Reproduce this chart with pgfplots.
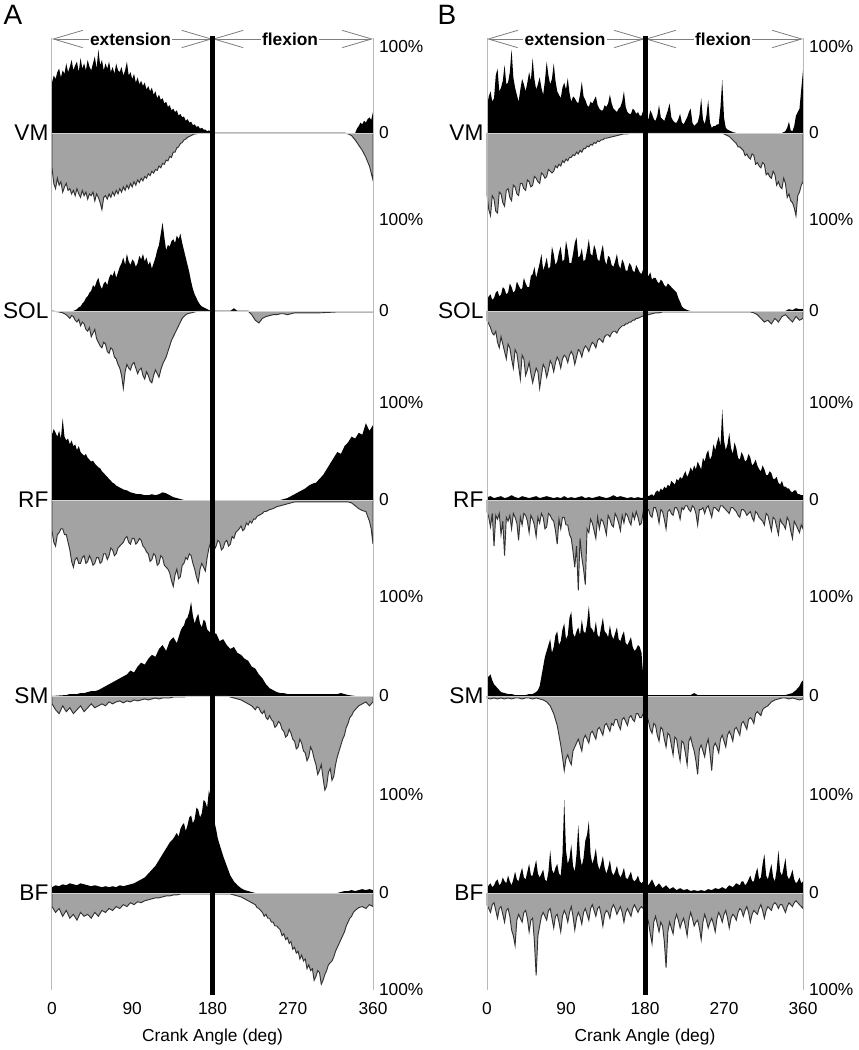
\documentclass[border=0pt]{standalone}
\usepackage{fontspec}
\setmainfont{Liberation Sans}
\usepackage{pgfplots}
\usepackage{pgfplotstable}
\pgfplotsset{compat=1.18}
\usetikzlibrary{arrows.meta}
\definecolor{gfill}{RGB}{163,163,163}
\definecolor{gline}{RGB}{50,50,50}
\definecolor{axgray}{RGB}{185,185,185}
\definecolor{arrgray}{RGB}{125,125,125}

% panel A (x = crank angle, y = % of max); p = black (upper), n = grey (lower)
\pgfplotstableread[row sep=\\]{x y\\0 0\\0 58\\2 66\\4 62\\6 70\\8 74\\10 64\\12 72\\14 68\\16 80\\18 70\\20 76\\22 84\\24 72\\26 78\\28 82\\30 70\\32 86\\34 74\\36 80\\38 72\\40 84\\42 76\\44 72\\46 80\\48 88\\50 74\\52 96\\54 78\\56 84\\58 72\\60 80\\62 74\\64 82\\66 70\\68 76\\70 68\\72 80\\74 72\\76 70\\78 76\\80 66\\82 72\\84 82\\86 66\\88 70\\90 62\\92 68\\94 58\\96 64\\98 56\\100 60\\102 54\\104 58\\106 50\\108 54\\110 48\\112 52\\114 44\\116 48\\118 40\\120 44\\122 38\\124 40\\126 34\\128 36\\130 30\\132 32\\134 26\\136 28\\138 24\\140 26\\142 20\\144 22\\146 18\\148 19\\150 14\\152 16\\154 12\\156 13\\158 9\\160 10\\162 7\\164 8\\166 5\\168 6\\170 4\\172 4\\174 2\\176 3\\178 1\\180 0\\340 0\\342 5\\344 8\\346 12\\348 10\\350 14\\352 12\\354 16\\356 18\\358 15\\360 24\\360 0\\}\AVMp
\pgfplotstableread[row sep=\\]{x y\\0 0\\0 40\\2 58\\4 64\\6 52\\8 60\\10 56\\12 68\\14 62\\16 58\\18 66\\20 64\\22 70\\24 66\\26 72\\28 64\\30 70\\32 74\\34 66\\36 72\\38 68\\40 76\\42 70\\44 72\\46 68\\48 78\\50 70\\52 74\\54 80\\56 88\\58 74\\60 72\\62 76\\64 70\\66 74\\68 68\\70 72\\72 66\\74 70\\76 64\\78 68\\80 62\\82 66\\84 60\\86 64\\88 58\\90 62\\92 56\\94 60\\96 54\\98 57\\100 52\\102 55\\104 50\\106 52\\108 47\\110 49\\112 44\\114 46\\116 42\\118 43\\120 38\\122 40\\124 35\\126 36\\128 31\\130 32\\132 27\\134 28\\136 22\\138 22\\140 17\\142 16\\144 12\\146 11\\148 8\\150 7\\152 5\\154 4\\156 3\\158 2\\160 1\\162 1\\164 0\\328 0\\332 1\\336 3\\340 8\\344 14\\348 20\\352 28\\356 38\\358 46\\360 54\\360 0\\}\AVMn
\pgfplotstableread[row sep=\\]{x y\\0 0\\24 0\\28 2\\30 4\\32 5\\34 8\\36 10\\38 14\\40 16\\42 20\\44 22\\46 28\\48 26\\50 32\\52 36\\54 28\\56 24\\58 30\\60 32\\62 28\\64 36\\66 40\\68 38\\70 44\\72 36\\74 42\\76 48\\78 52\\80 58\\82 50\\84 62\\86 54\\88 50\\90 56\\92 54\\94 48\\96 52\\98 60\\100 56\\102 62\\104 54\\106 58\\108 50\\110 54\\112 46\\114 52\\116 58\\118 66\\120 72\\122 84\\124 96\\126 80\\128 66\\130 72\\132 70\\134 76\\136 78\\138 74\\140 82\\142 78\\144 84\\146 74\\148 66\\150 58\\152 50\\154 42\\156 32\\158 24\\160 18\\162 14\\164 10\\166 7\\168 5\\170 4\\172 3\\174 2\\176 1\\180 0\\200 0\\204 3\\208 0\\360 0\\}\ASOLp
\pgfplotstableread[row sep=\\]{x y\\0 0\\8 1\\12 2\\16 4\\18 6\\20 8\\22 5\\24 6\\26 10\\28 12\\30 9\\32 16\\34 12\\36 14\\38 20\\40 22\\42 18\\44 28\\46 24\\48 20\\50 30\\52 34\\54 38\\56 40\\58 34\\60 36\\62 44\\64 46\\66 40\\68 42\\70 50\\72 52\\74 58\\76 62\\78 70\\80 84\\82 66\\84 58\\86 62\\88 64\\90 58\\92 56\\94 62\\96 68\\98 64\\100 62\\102 70\\104 74\\106 66\\108 70\\110 76\\112 78\\114 70\\116 64\\118 68\\120 72\\122 64\\124 58\\126 54\\128 50\\130 44\\132 38\\134 32\\136 28\\138 24\\140 20\\142 16\\144 12\\146 8\\148 6\\150 4\\152 3\\156 2\\160 1\\164 0\\220 0\\224 4\\228 10\\232 13\\236 8\\240 6\\244 5\\248 4\\252 4\\256 3\\260 3\\264 4\\268 3\\272 2\\300 2\\320 1\\360 1\\360 0\\}\ASOLn
\pgfplotstableread[row sep=\\]{x y\\0 0\\0 68\\2 74\\4 70\\6 66\\8 72\\10 64\\12 85\\14 66\\16 62\\18 64\\20 58\\22 62\\24 56\\26 58\\28 52\\30 56\\32 50\\34 48\\36 46\\38 48\\40 44\\42 42\\44 40\\46 41\\48 38\\50 36\\52 34\\54 33\\56 30\\58 28\\60 26\\62 24\\64 22\\66 20\\68 18\\70 17\\72 15\\76 13\\80 11\\84 10\\88 8\\92 7\\96 6\\100 6\\104 5\\108 5\\112 6\\116 5\\120 6\\124 8\\128 7\\132 5\\136 3\\140 2\\144 1\\148 0\\256 0\\260 1\\264 2\\268 4\\272 6\\276 8\\280 10\\284 12\\288 15\\292 17\\296 18\\300 22\\304 26\\308 32\\312 38\\316 44\\320 50\\324 48\\328 56\\332 60\\336 66\\340 64\\344 70\\348 68\\352 80\\356 72\\360 78\\360 0\\}\ARFp
\pgfplotstableread[row sep=\\]{x y\\0 0\\0 32\\2 44\\4 48\\6 36\\8 34\\10 30\\12 30\\14 36\\16 36\\18 44\\20 52\\22 64\\24 70\\26 62\\28 60\\30 66\\32 66\\34 60\\36 58\\38 66\\40 64\\42 58\\44 62\\46 68\\48 66\\50 60\\52 60\\54 66\\56 64\\58 56\\60 56\\62 62\\64 58\\66 50\\68 52\\70 58\\72 56\\74 50\\76 48\\78 46\\80 44\\82 40\\84 38\\86 44\\88 46\\90 40\\92 40\\94 46\\96 44\\98 40\\100 42\\102 48\\104 50\\106 54\\108 56\\110 64\\112 62\\114 56\\116 58\\118 68\\120 66\\122 58\\124 60\\126 68\\128 70\\130 72\\132 76\\134 84\\136 90\\138 78\\140 72\\142 82\\144 80\\146 68\\148 66\\150 60\\152 62\\154 56\\156 58\\158 66\\160 72\\162 80\\164 86\\166 72\\168 66\\170 70\\172 74\\174 60\\176 50\\178 44\\180 46\\182 52\\184 48\\186 42\\188 44\\190 52\\192 50\\194 44\\196 42\\198 48\\200 46\\202 38\\204 40\\206 34\\208 32\\210 30\\212 27\\214 32\\216 30\\218 24\\220 26\\222 22\\224 24\\226 20\\228 20\\230 17\\232 16\\234 15\\236 14\\238 12\\240 12\\244 10\\248 9\\252 7\\256 6\\260 5\\264 4\\268 3\\272 2\\332 2\\336 3\\340 6\\344 9\\348 11\\352 12\\356 22\\358 30\\360 46\\360 0\\}\ARFn
\pgfplotstableread[row sep=\\]{x y\\0 0\\16 1\\20 2\\28 2\\32 3\\36 3\\40 4\\44 5\\48 5\\52 6\\56 8\\60 10\\64 12\\68 14\\72 16\\76 18\\80 20\\84 22\\88 26\\92 24\\96 30\\100 34\\104 32\\108 38\\112 42\\116 40\\120 48\\124 52\\128 46\\132 56\\136 60\\140 54\\144 66\\146 70\\148 72\\150 78\\152 80\\154 86\\156 96\\158 82\\160 74\\162 80\\164 84\\166 74\\168 70\\170 78\\172 76\\174 68\\176 66\\178 64\\180 62\\184 64\\188 56\\192 58\\196 52\\200 48\\204 50\\208 44\\212 42\\216 38\\220 36\\224 30\\228 28\\232 22\\236 18\\240 12\\244 8\\248 6\\252 4\\256 3\\260 3\\264 2\\320 2\\324 3\\328 2\\332 1\\340 0\\360 0\\}\ASMp
\pgfplotstableread[row sep=\\]{x y\\0 0\\0 8\\4 14\\8 18\\12 10\\16 16\\20 12\\24 18\\28 14\\32 10\\36 16\\40 12\\44 8\\48 12\\52 10\\56 8\\60 10\\64 6\\68 8\\72 6\\76 5\\80 7\\84 5\\88 6\\92 4\\96 5\\100 4\\104 3\\108 4\\112 3\\116 2\\120 3\\124 2\\132 2\\136 1\\148 1\\152 0\\196 0\\200 1\\204 2\\208 3\\212 4\\216 6\\220 8\\224 10\\226 12\\228 14\\230 11\\232 12\\234 16\\236 18\\238 15\\240 22\\242 24\\244 20\\246 24\\248 26\\250 32\\252 30\\254 26\\256 28\\258 34\\260 36\\262 42\\264 40\\266 34\\268 38\\270 44\\272 46\\274 54\\276 52\\278 44\\280 48\\282 56\\284 58\\286 66\\288 62\\290 52\\292 56\\294 64\\296 70\\298 80\\300 76\\302 70\\304 84\\306 96\\308 92\\310 78\\312 74\\314 86\\316 82\\318 70\\320 62\\322 56\\324 50\\326 44\\328 40\\330 32\\332 28\\334 22\\336 20\\338 16\\340 14\\344 10\\348 8\\352 6\\356 10\\360 6\\360 0\\}\ASMn
\pgfplotstableread[row sep=\\]{x y\\0 0\\0 6\\4 8\\8 7\\12 9\\16 8\\20 10\\24 9\\28 8\\32 10\\36 9\\40 8\\44 7\\48 8\\52 7\\56 6\\60 7\\64 6\\68 7\\72 6\\76 8\\80 7\\84 8\\88 9\\92 10\\96 12\\100 14\\104 16\\108 20\\112 24\\116 28\\120 34\\124 40\\128 46\\132 52\\136 56\\140 62\\142 58\\144 66\\146 70\\148 72\\150 64\\152 70\\154 78\\156 80\\158 72\\160 76\\162 88\\164 86\\166 78\\168 82\\170 96\\172 94\\174 88\\176 106\\178 98\\180 90\\182 74\\184 66\\186 56\\188 50\\190 44\\192 38\\196 28\\200 18\\204 12\\208 8\\212 5\\216 3\\220 2\\224 1\\228 0\\320 0\\324 1\\328 2\\332 2\\336 3\\340 2\\344 3\\348 4\\352 3\\356 4\\360 3\\360 0\\}\ABFp
\pgfplotstableread[row sep=\\]{x y\\0 0\\0 14\\4 20\\8 16\\12 24\\16 18\\20 26\\24 22\\28 28\\32 20\\36 24\\40 22\\44 26\\48 20\\52 24\\56 18\\60 20\\64 16\\68 18\\72 14\\76 16\\80 12\\84 14\\88 10\\92 12\\96 9\\100 10\\104 8\\108 7\\112 6\\116 5\\120 5\\124 4\\128 3\\132 3\\136 2\\140 2\\144 1\\200 1\\204 2\\208 3\\212 4\\216 6\\220 8\\224 10\\228 12\\230 15\\232 16\\234 18\\236 20\\238 24\\240 22\\242 26\\244 26\\246 30\\248 30\\250 34\\252 34\\254 36\\256 38\\258 44\\260 42\\262 48\\264 46\\266 52\\268 50\\270 58\\272 56\\274 62\\276 60\\278 68\\280 64\\282 70\\284 68\\286 78\\288 74\\290 80\\292 78\\294 90\\296 86\\298 80\\300 82\\302 94\\304 90\\306 84\\308 80\\310 74\\312 72\\314 70\\316 66\\318 60\\320 56\\322 52\\324 48\\326 44\\328 40\\330 34\\332 30\\334 26\\336 24\\338 20\\340 18\\344 15\\348 14\\352 16\\356 12\\360 14\\360 0\\}\ABFn

% panel B
\pgfplotstableread[row sep=\\]{x y\\0 0\\0 30\\2 42\\4 48\\6 36\\8 40\\10 66\\12 74\\14 48\\16 52\\18 60\\20 78\\22 56\\24 58\\26 70\\28 96\\30 64\\32 52\\34 44\\36 36\\38 50\\40 62\\42 56\\44 48\\46 58\\48 70\\50 60\\52 86\\54 62\\56 50\\58 56\\60 64\\62 52\\64 44\\66 60\\68 82\\70 66\\72 56\\74 62\\76 80\\78 60\\80 48\\82 44\\84 40\\86 52\\88 58\\90 50\\92 63\\94 46\\96 36\\98 42\\100 40\\102 36\\104 34\\106 44\\108 59\\110 42\\112 38\\114 32\\116 30\\118 36\\120 34\\122 38\\124 42\\126 32\\128 28\\130 26\\132 26\\134 32\\136 30\\138 34\\140 44\\142 34\\144 28\\146 26\\148 24\\150 28\\152 30\\154 36\\156 48\\158 30\\160 24\\162 22\\164 22\\166 28\\168 26\\170 22\\172 24\\174 20\\176 20\\178 26\\180 22\\182 18\\184 16\\186 26\\188 22\\190 16\\192 14\\194 20\\196 32\\198 18\\200 16\\202 14\\204 20\\206 26\\208 34\\210 18\\212 14\\214 12\\216 12\\218 16\\220 22\\222 12\\224 10\\226 14\\228 18\\230 24\\232 28\\234 12\\236 8\\238 10\\240 12\\242 20\\244 40\\246 16\\248 10\\250 20\\252 38\\254 12\\256 6\\258 8\\260 8\\262 10\\264 10\\266 30\\268 61\\270 18\\272 6\\274 4\\276 3\\278 2\\280 1\\284 0\\336 0\\340 2\\342 6\\344 13\\346 3\\348 2\\350 8\\352 20\\354 24\\356 28\\358 50\\360 72\\360 0\\}\BVMp
\pgfplotstableread[row sep=\\]{x y\\0 0\\0 70\\2 88\\4 95\\6 72\\8 76\\10 90\\12 92\\14 68\\16 70\\18 80\\20 84\\22 66\\24 64\\26 74\\28 78\\30 60\\32 62\\34 70\\36 72\\38 58\\40 58\\42 64\\44 66\\46 54\\48 56\\50 62\\52 60\\54 50\\56 52\\58 56\\60 58\\62 46\\64 48\\66 52\\68 50\\70 42\\72 44\\74 46\\76 44\\78 38\\80 40\\82 36\\84 38\\86 32\\88 34\\90 30\\92 32\\94 28\\96 28\\98 25\\100 26\\102 22\\104 24\\106 20\\108 22\\110 18\\112 18\\114 15\\116 16\\118 13\\120 14\\122 11\\124 12\\126 9\\128 10\\130 8\\132 8\\134 6\\136 6\\140 5\\144 4\\148 3\\152 2\\156 1\\160 1\\164 0\\268 0\\272 2\\276 4\\278 6\\280 8\\282 10\\284 12\\286 16\\288 16\\290 18\\292 20\\294 26\\296 24\\298 28\\300 30\\302 24\\304 26\\306 36\\308 34\\310 38\\312 40\\314 34\\316 36\\318 48\\320 46\\322 50\\324 52\\326 44\\328 48\\330 60\\332 56\\334 62\\336 64\\338 52\\340 58\\342 74\\344 70\\346 78\\348 80\\350 86\\352 95\\354 72\\356 68\\358 60\\360 56\\360 0\\}\BVMn
\pgfplotstableread[row sep=\\]{x y\\0 0\\0 12\\2 16\\4 18\\6 12\\8 14\\10 20\\12 22\\14 16\\16 18\\18 26\\20 24\\22 18\\24 20\\26 30\\28 26\\30 20\\32 22\\34 32\\36 28\\38 24\\40 24\\42 36\\44 30\\46 26\\48 26\\50 38\\52 40\\54 48\\56 36\\58 44\\60 52\\62 62\\64 44\\66 50\\68 58\\70 46\\72 48\\74 70\\76 62\\78 50\\80 54\\82 64\\84 70\\86 54\\88 56\\90 76\\92 66\\94 52\\96 52\\98 62\\100 74\\102 80\\104 58\\106 60\\108 68\\110 54\\112 56\\114 66\\116 78\\118 62\\120 60\\122 72\\124 66\\126 56\\128 54\\130 64\\132 72\\134 56\\136 50\\138 60\\140 58\\142 50\\144 48\\146 54\\148 62\\150 50\\152 46\\154 56\\156 52\\158 44\\160 44\\162 52\\164 50\\166 44\\168 42\\170 50\\172 46\\174 42\\176 40\\178 46\\180 44\\182 40\\184 38\\186 42\\188 34\\190 36\\192 36\\194 32\\196 30\\198 34\\200 32\\202 28\\204 26\\206 30\\208 28\\210 26\\212 24\\214 22\\216 20\\218 14\\220 10\\222 5\\224 3\\226 2\\228 1\\232 0\\340 0\\344 2\\348 1\\352 3\\356 2\\360 2\\360 0\\}\BSOLp
\pgfplotstableread[row sep=\\]{x y\\0 0\\0 10\\2 14\\4 18\\6 24\\8 26\\10 22\\12 34\\14 40\\16 28\\18 36\\20 44\\22 52\\24 36\\26 40\\28 52\\30 62\\32 42\\34 46\\36 60\\38 74\\40 48\\42 52\\44 70\\46 64\\48 56\\50 68\\52 78\\54 70\\56 62\\58 66\\60 84\\62 70\\64 58\\66 62\\68 72\\70 64\\72 54\\74 58\\76 66\\78 56\\80 50\\82 54\\84 62\\86 52\\88 48\\90 50\\92 56\\94 48\\96 44\\98 48\\100 58\\102 50\\104 42\\106 44\\108 50\\110 42\\112 38\\114 40\\116 44\\118 38\\120 34\\122 36\\124 40\\126 32\\128 30\\130 32\\132 34\\134 28\\136 26\\138 26\\140 28\\142 24\\144 22\\146 22\\148 24\\150 20\\152 18\\154 16\\156 16\\158 14\\160 14\\162 12\\164 12\\166 10\\168 10\\170 8\\172 8\\176 6\\180 5\\184 4\\188 3\\192 2\\196 2\\200 1\\300 1\\304 2\\308 4\\312 8\\316 12\\320 10\\324 14\\328 8\\332 12\\336 6\\340 4\\344 8\\348 12\\352 6\\356 10\\360 8\\360 0\\}\BSOLn
\pgfplotstableread[row sep=\\]{x y\\0 0\\0 3\\4 4\\8 2\\12 3\\16 4\\20 2\\24 3\\28 5\\32 3\\36 2\\40 4\\44 3\\48 2\\52 3\\56 4\\60 2\\64 3\\68 4\\72 3\\76 2\\80 3\\84 2\\88 4\\92 2\\96 3\\100 2\\104 3\\108 4\\112 2\\116 3\\120 2\\124 3\\128 4\\132 3\\136 2\\140 3\\144 5\\148 3\\152 4\\156 3\\160 2\\164 3\\168 2\\172 3\\176 2\\180 3\\184 4\\188 6\\190 4\\192 8\\194 10\\196 8\\198 12\\200 10\\202 14\\204 12\\206 16\\208 14\\210 20\\212 18\\214 16\\216 22\\218 20\\220 24\\222 22\\224 26\\226 30\\228 24\\230 28\\232 34\\234 30\\236 36\\238 32\\240 40\\242 36\\244 32\\246 44\\248 40\\250 48\\252 52\\254 42\\256 46\\258 58\\260 52\\262 60\\264 66\\266 56\\268 94\\270 62\\272 52\\274 58\\276 70\\278 54\\280 48\\282 60\\284 54\\286 44\\288 42\\290 50\\292 46\\294 40\\296 42\\298 48\\300 44\\302 36\\304 38\\306 42\\308 36\\310 32\\312 30\\314 36\\316 32\\318 26\\320 26\\322 30\\324 28\\326 22\\328 22\\330 24\\332 18\\334 16\\336 20\\338 14\\340 14\\342 12\\344 12\\346 9\\348 8\\350 10\\352 10\\354 6\\356 6\\358 5\\360 5\\360 0\\}\BRFp
\pgfplotstableread[row sep=\\]{x y\\0 0\\0 12\\2 18\\4 28\\6 14\\8 48\\10 16\\12 20\\14 14\\16 36\\18 22\\20 58\\22 18\\24 22\\26 16\\28 30\\30 14\\32 18\\34 24\\36 42\\38 18\\40 26\\42 14\\44 16\\46 22\\48 34\\50 16\\52 20\\54 26\\56 38\\58 18\\60 24\\62 14\\64 18\\66 30\\68 28\\70 14\\72 16\\74 20\\76 22\\78 32\\80 46\\82 20\\84 30\\86 18\\88 18\\90 26\\92 26\\94 36\\96 40\\98 54\\100 70\\102 48\\104 94\\106 40\\108 60\\110 72\\112 88\\114 30\\116 34\\118 20\\120 24\\122 32\\124 40\\126 18\\128 30\\130 20\\132 22\\134 28\\136 36\\138 16\\140 20\\142 26\\144 28\\146 14\\148 18\\150 24\\152 32\\154 16\\156 24\\158 14\\160 16\\162 22\\164 26\\166 14\\168 20\\170 12\\172 18\\174 26\\176 24\\178 12\\180 14\\182 10\\184 10\\186 16\\188 18\\190 8\\192 8\\194 14\\196 24\\198 10\\200 12\\202 20\\204 30\\206 12\\208 10\\210 14\\212 16\\214 8\\216 8\\218 12\\220 20\\222 8\\224 10\\226 6\\228 6\\230 10\\232 12\\234 6\\236 8\\238 14\\240 26\\242 10\\244 10\\246 8\\248 14\\250 8\\252 6\\254 12\\256 18\\258 8\\260 8\\262 10\\264 12\\266 6\\268 6\\270 8\\272 10\\274 12\\276 14\\278 8\\280 8\\282 10\\284 12\\286 16\\288 18\\290 10\\292 10\\294 12\\296 16\\298 14\\300 12\\302 18\\304 22\\306 12\\308 14\\310 18\\312 20\\314 22\\316 26\\318 14\\320 16\\322 24\\324 32\\326 18\\328 20\\330 28\\332 36\\334 20\\336 24\\338 26\\340 30\\342 18\\344 22\\346 32\\348 40\\350 22\\352 26\\354 30\\356 34\\358 26\\360 30\\360 0\\}\BRFn
\pgfplotstableread[row sep=\\]{x y\\0 0\\0 18\\2 20\\4 22\\6 16\\8 12\\10 10\\12 8\\14 6\\16 4\\20 3\\24 2\\28 2\\32 1\\44 1\\48 2\\52 2\\56 4\\58 6\\60 10\\62 20\\64 30\\66 40\\68 46\\70 52\\72 58\\74 44\\76 50\\78 62\\80 66\\82 52\\84 56\\86 68\\88 74\\90 58\\92 62\\94 80\\96 86\\98 64\\100 60\\102 66\\104 70\\106 62\\108 78\\110 66\\112 64\\114 74\\116 92\\118 70\\120 68\\122 64\\124 76\\126 62\\128 60\\130 70\\132 80\\134 66\\136 64\\138 60\\140 72\\142 62\\144 58\\146 64\\148 70\\150 58\\152 56\\154 62\\156 66\\158 54\\160 52\\162 56\\164 60\\166 50\\168 46\\170 48\\172 52\\174 50\\176 44\\178 20\\180 2\\184 1\\232 1\\236 3\\240 1\\340 1\\344 2\\348 3\\352 6\\356 10\\358 14\\360 16\\360 0\\}\BSMp
\pgfplotstableread[row sep=\\]{x y\\0 0\\0 2\\4 3\\8 2\\12 3\\16 2\\20 3\\24 2\\28 3\\32 2\\36 2\\40 3\\44 2\\48 2\\52 3\\56 2\\60 3\\64 4\\68 6\\72 10\\74 14\\76 18\\78 24\\80 30\\82 40\\84 50\\86 62\\88 76\\90 64\\92 60\\94 66\\96 70\\98 56\\100 52\\102 48\\104 44\\106 50\\108 56\\110 44\\112 40\\114 44\\116 48\\118 38\\120 36\\122 40\\124 44\\126 34\\128 32\\130 36\\132 40\\134 30\\136 28\\138 32\\140 36\\142 28\\144 30\\146 24\\148 24\\150 30\\152 34\\154 24\\156 22\\158 26\\160 30\\162 22\\164 20\\166 24\\168 26\\170 18\\172 18\\174 22\\176 22\\178 18\\180 16\\182 20\\184 26\\186 34\\188 38\\190 28\\192 30\\194 40\\196 46\\198 32\\200 34\\202 44\\204 52\\206 38\\208 40\\210 50\\212 60\\214 42\\216 44\\218 56\\220 66\\222 46\\224 48\\226 58\\228 70\\230 46\\232 42\\234 50\\236 56\\238 66\\240 80\\242 54\\244 50\\246 56\\248 62\\250 50\\252 44\\254 58\\256 76\\258 52\\260 48\\262 52\\264 58\\266 44\\268 40\\270 46\\272 52\\274 40\\276 36\\278 40\\280 46\\282 34\\284 32\\286 36\\288 40\\290 28\\292 26\\294 30\\296 34\\298 24\\300 22\\302 24\\304 28\\306 18\\308 16\\310 18\\312 20\\314 14\\316 12\\318 11\\320 10\\324 6\\328 4\\332 3\\336 2\\340 2\\344 3\\348 2\\352 3\\356 4\\360 3\\360 0\\}\BSMn
\pgfplotstableread[row sep=\\]{x y\\0 0\\0 6\\2 8\\4 10\\6 6\\8 8\\10 12\\12 14\\14 8\\16 10\\18 16\\20 12\\22 10\\24 18\\26 12\\28 8\\30 14\\32 22\\34 14\\36 12\\38 20\\40 26\\42 16\\44 14\\46 22\\48 30\\50 18\\52 18\\54 26\\56 34\\58 20\\60 16\\62 20\\64 24\\66 14\\68 12\\70 22\\72 44\\74 24\\76 20\\78 26\\80 30\\82 20\\84 18\\86 40\\88 96\\90 44\\92 30\\94 36\\96 50\\98 28\\100 22\\102 40\\104 70\\106 38\\108 28\\110 36\\112 54\\114 60\\116 74\\118 40\\120 30\\122 36\\124 46\\126 30\\128 24\\130 30\\132 38\\134 26\\136 20\\138 26\\140 34\\142 22\\144 18\\146 22\\148 28\\150 20\\152 16\\154 20\\156 26\\158 16\\160 14\\162 18\\164 22\\166 14\\168 12\\170 14\\172 18\\174 12\\176 10\\178 12\\180 12\\184 8\\188 14\\192 6\\196 10\\200 5\\204 8\\208 4\\212 6\\216 3\\220 5\\224 3\\228 4\\232 2\\236 3\\240 2\\244 3\\248 2\\252 4\\256 3\\260 5\\264 4\\268 6\\272 4\\276 8\\280 6\\284 10\\288 8\\290 12\\292 12\\294 8\\296 10\\298 14\\300 18\\302 12\\304 12\\306 20\\308 26\\310 14\\312 16\\314 30\\316 40\\318 18\\320 14\\322 22\\324 30\\326 16\\328 12\\330 24\\332 44\\334 22\\336 18\\338 26\\340 36\\342 18\\344 14\\346 18\\348 24\\350 14\\352 10\\354 12\\356 16\\358 10\\360 12\\360 0\\}\BBFp
\pgfplotstableread[row sep=\\]{x y\\0 0\\0 12\\2 16\\4 20\\6 12\\8 10\\10 18\\12 26\\14 16\\16 14\\18 22\\20 30\\22 18\\24 16\\26 24\\28 38\\30 44\\32 54\\34 28\\36 22\\38 26\\40 30\\42 20\\44 18\\46 26\\48 40\\50 28\\52 26\\54 50\\56 85\\58 44\\60 34\\62 24\\64 20\\66 24\\68 28\\70 18\\72 16\\74 26\\76 36\\78 24\\80 22\\82 30\\84 40\\86 24\\88 18\\90 22\\92 30\\94 20\\96 14\\98 24\\100 38\\102 26\\104 20\\106 24\\108 32\\110 20\\112 16\\114 22\\116 28\\118 16\\120 12\\122 18\\124 24\\126 16\\128 14\\130 22\\132 34\\134 22\\136 18\\138 20\\140 26\\142 16\\144 12\\146 16\\148 22\\150 18\\152 14\\154 20\\156 30\\158 20\\160 16\\162 20\\164 24\\166 16\\168 12\\170 16\\172 20\\174 16\\176 14\\178 16\\180 18\\182 24\\184 30\\186 42\\188 52\\190 30\\192 24\\194 32\\196 40\\198 30\\200 34\\202 50\\204 77\\206 40\\208 30\\210 36\\212 42\\214 28\\216 22\\218 28\\220 36\\222 30\\224 26\\226 34\\228 44\\230 28\\232 20\\234 26\\236 34\\238 30\\240 28\\242 36\\244 48\\246 30\\248 22\\250 28\\252 36\\254 30\\256 26\\258 32\\260 40\\262 26\\264 20\\266 24\\268 30\\270 22\\272 18\\274 26\\276 36\\278 26\\280 22\\282 24\\284 28\\286 20\\288 16\\290 18\\292 24\\294 18\\296 14\\298 20\\300 30\\302 22\\304 18\\306 20\\308 22\\310 16\\312 12\\314 18\\316 26\\318 18\\320 14\\322 16\\324 18\\326 12\\328 10\\330 12\\332 16\\334 12\\336 12\\338 16\\340 20\\342 14\\344 10\\346 12\\348 14\\350 10\\352 8\\354 10\\356 12\\358 14\\360 16\\360 0\\}\BBFn

% one muscle row: #1 black table, #2 grey table, #3 baseline, #4 scale
\newcommand{\emgrow}[4]{%
  \addplot[fill=black,draw=none] table[x=x,y expr={\thisrow{y}*#4-#3}]{#1};
  \addplot[fill=gfill,draw=none] table[x=x,y expr={-\thisrow{y}*#4-#3}]{#2};
  \addplot[gline,line width=0.7pt] table[x=x,y expr={-\thisrow{y}*#4-#3}]{#2};
  \draw[gray!35,line width=0.6pt] (axis cs:0,-#3) -- (axis cs:360,-#3);
}
\newcommand{\rowlab}[2]{\node[anchor=east,inner sep=0pt,xshift=-2.5pt,font=\fontsize{17}{19}\selectfont] at (axis cs:0,-#1) {#2};}

\pgfplotsset{emg/.style={
  scale only axis, height=714pt, xmin=0, xmax=360, ymin=-990, ymax=-38,
  clip=false, axis line style={draw=none}, major tick length=0pt,
  xtick={0,90,180,270,360},
  ytick={-990,-893,-795,-696,-597,-500,-403,-311,-220,-133,-47},
  yticklabels={100\%,0,100\%,0,100\%,0,100\%,0,100\%,0,100\%},
  yticklabel pos=right,
  tick label style={font=\fontsize{13}{15}\selectfont},
  /pgf/number format/assume math mode=true,
  xticklabel style={yshift=-6pt},
  yticklabel style={xshift=1pt},
}}

\newcommand{\decor}[2]{%
  \draw[axgray,line width=0.75pt] (axis cs:0,-38) -- (axis cs:0,-990);
  \draw[axgray,line width=0.75pt] (axis cs:360,-38) -- (axis cs:360,-990);
  \draw[arrgray,line width=0.6pt,{Straight Barb[length=22pt,width=13pt]}-{Straight Barb[length=22pt,width=13pt]}] (axis cs:0,-39) -- (axis cs:180,-39);
  \draw[arrgray,line width=0.6pt,{Straight Barb[length=22pt,width=13pt]}-{Straight Barb[length=22pt,width=13pt]}] (axis cs:180,-39) -- (axis cs:360,-39);
  \node[fill=white,inner sep=1pt,font=\bfseries\fontsize{13}{15}\selectfont] at (axis cs:#1,-39) {extension};
  \node[fill=white,inner sep=1pt,font=\bfseries\fontsize{13}{15}\selectfont] at (axis cs:#2,-39) {flexion};
  \draw[black,line width=3.75pt] (axis cs:180,-36) -- (axis cs:180,-995);
  \node[font=\fontsize{13}{15}\selectfont] at (axis cs:180,-1037) {Crank Angle (deg)};
  \rowlab{133}{VM}\rowlab{311}{SOL}\rowlab{500}{RF}\rowlab{696}{SM}\rowlab{893}{BF}
}

\begin{document}
\begin{tikzpicture}
\useasboundingbox (0,0) rectangle (644.25pt,-787.5pt);
\node[font=\fontsize{21}{24}\selectfont] at (9.75pt,-11.25pt) {A};
\node[font=\fontsize{21}{24}\selectfont] at (335.25pt,-11.25pt) {B};

\begin{axis}[emg, width=240.75pt, at={(39pt,-742.5pt)}, anchor=south west]
\emgrow{\AVMp}{\AVMn}{133}{0.87}
\emgrow{\ASOLp}{\ASOLn}{311}{0.92}
\emgrow{\ARFp}{\ARFn}{500}{0.96}
\emgrow{\ASMp}{\ASMn}{696}{0.98}
\emgrow{\ABFp}{\ABFn}{893}{0.97}
\decor{88}{267}
\end{axis}

\begin{axis}[emg, width=237pt, at={(365.25pt,-742.5pt)}, anchor=south west]
\emgrow{\BVMp}{\BVMn}{133}{0.87}
\emgrow{\BSOLp}{\BSOLn}{311}{0.92}
\emgrow{\BRFp}{\BRFn}{500}{0.96}
\emgrow{\BSMp}{\BSMn}{696}{0.98}
\emgrow{\BBFp}{\BBFn}{893}{0.97}
\decor{89}{269}
\end{axis}
\end{tikzpicture}
\end{document}
